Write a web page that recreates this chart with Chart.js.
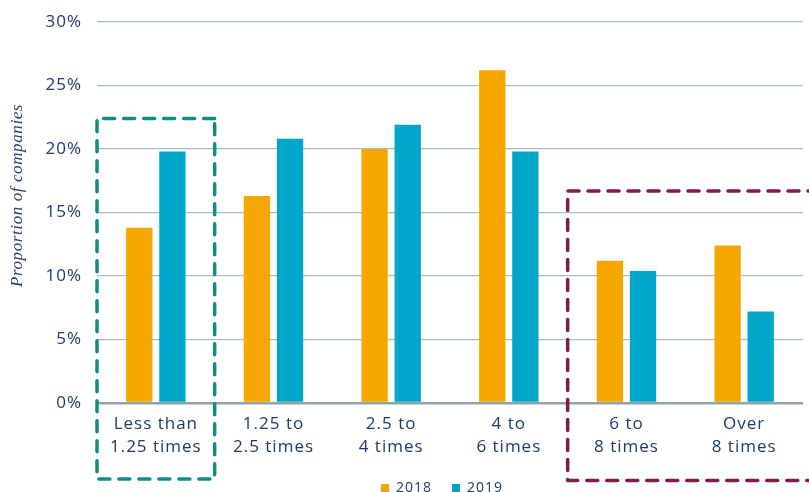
<!DOCTYPE html>
<html>
<head>
<meta charset="utf-8">
<script src="https://cdn.jsdelivr.net/npm/chart.js@4/dist/chart.umd.min.js"></script>
<style>
html,body{margin:0;padding:0;background:#fff;}
#wrap{width:809px;height:492px;position:relative;}
</style>
</head>
<body>
<div id="wrap"><canvas id="c" width="809" height="492"></canvas></div>
<script>
const categories = [["Less than","1.25 times"],["1.25 to","2.5 times"],["2.5 to","4 times"],["4 to","6 times"],["6 to","8 times"],["Over","8 times"]];
const values2018 = [13.8, 16.3, 20.0, 26.2, 11.2, 12.4];
const values2019 = [19.8, 20.8, 21.9, 19.8, 10.4, 7.2];
const seriesNames = ["2018", "2019"];
const yTicks = [0, 5, 10, 15, 20, 25, 30];
const yTitle = "Proportion of companies";
const highlightFrom = [0, 4];
const highlightTo = [0, 5];
const highlightTop = [22.4, 16.7];

const NAVY = '#1d3a6a';
const boxColors = ['#108d84', '#7d1d4d'];

const spacingPlugin = {
  id: 'spacing',
  beforeLayout(chart) { chart.ctx.letterSpacing = '1px'; },
  afterLayout(chart) {
    const lg = chart.legend, a = chart.chartArea;
    if (lg) { lg.left = a.left - 8; lg.right = a.right - 8; lg.width = a.right - a.left; }
  },
  beforeDraw(chart) { chart.ctx.letterSpacing = '1px'; }
};

const titlePlugin = {
  id: 'ytitle',
  afterDraw(chart) {
    const {ctx, chartArea} = chart;
    ctx.save();
    ctx.letterSpacing = '0.6px';
    ctx.font = 'italic 17px "Liberation Serif"';
    ctx.fillStyle = '#2a3f6a';
    ctx.textAlign = 'center';
    ctx.textBaseline = 'middle';
    ctx.translate(18, (chartArea.top + chartArea.bottom) / 2 - 17);
    ctx.rotate(-Math.PI / 2);
    ctx.fillText(yTitle, 0, 0);
    ctx.restore();
  }
};

const boxPlugin = {
  id: 'boxes',
  afterDraw(chart) {
    const {ctx, chartArea, scales} = chart;
    const xs = scales.x, ys = scales.y;
    const cw = xs.width / categories.length;
    ctx.save();
    ctx.lineWidth = 3.5;
    ctx.setLineDash([11, 9]);
    ctx.lineCap = 'round';
    ctx.lineJoin = 'round';
    for (let i = 0; i < highlightFrom.length; i++) {
      const l = xs.getPixelForValue(highlightFrom[i]) - cw / 2;
      let r = xs.getPixelForValue(highlightTo[i]) + cw / 2;
      const open = highlightTo[i] === categories.length - 1;
      if (open) r = chart.width + 10;
      const t = ys.getPixelForValue(highlightTop[i]);
      const b = chartArea.bottom + 76 + i * 1.5;
      ctx.strokeStyle = boxColors[i];
      ctx.beginPath();
      ctx.moveTo(r, t); ctx.lineTo(l, t); ctx.lineTo(l, b); ctx.lineTo(r, b);
      if (!open) ctx.closePath();
      ctx.stroke();
    }
    ctx.restore();
  }
};

new Chart(document.getElementById('c'), {
  type: 'bar',
  data: {
    labels: categories,
    datasets: [
      {label: seriesNames[0], data: values2018, backgroundColor: '#f5a700'},
      {label: seriesNames[1], data: values2019, backgroundColor: '#00a6c9'}
    ]
  },
  options: {
    responsive: false,
    animation: false,
    devicePixelRatio: 1,
    categoryPercentage: 0.5626,
    barPercentage: 0.795,
    layout: {padding: {left: 0, right: 6, top: 22, bottom: -13}},
    plugins: {
      legend: {
        position: 'bottom',
        labels: {
          boxWidth: 8, boxHeight: 8, padding: 20,
          color: NAVY,
          font: {family: 'Open Sans', size: 14}
        }
      },
      tooltip: {enabled: false}
    },
    scales: {
      x: {
        grid: {display: false},
        border: {display: false},
        ticks: {color: NAVY, font: {family: 'Open Sans', size: 17, lineHeight: 1.35}, padding: 2, maxRotation: 0},
        afterFit(s) {
          const lg = s.chart.legend ? s.chart.legend.height : 0;
          s.height = s.chart.height - lg + 13 - 403;
        }
      },
      y: {
        min: 0, max: 30,
        afterBuildTicks(s) { s.ticks = yTicks.map(v => ({value: v})); },
        border: {display: false},
        grid: {
          drawTicks: false,
          color: c => c.tick && c.tick.value === 0 ? '#8fa4a7' : '#a8bec3',
          lineWidth: c => c.tick && c.tick.value === 0 ? 2.5 : 1.3
        },
        ticks: {color: NAVY, font: {family: 'Open Sans', size: 17}, padding: 15, callback: v => v + '%'},
        title: {display: false},
        afterFit(s) { s.width = 97; s.paddingTop = 5; s.paddingBottom = 5; }
      }
    }
  },
  plugins: [spacingPlugin, boxPlugin, titlePlugin]
});
</script>
</body>
</html>
